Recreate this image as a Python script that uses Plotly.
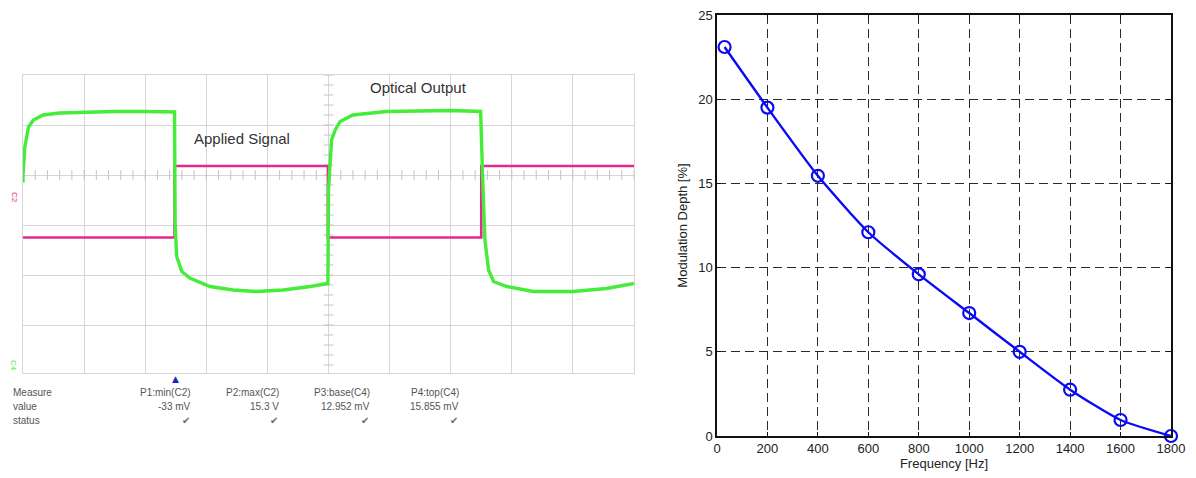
import numpy as np
import plotly.graph_objects as go

# ---------------- data ----------------
# Oscilloscope capture: time and amplitude in screen divisions (0 = marked centre line)
sig_t = [0, 2.48, 2.48, 4.99, 4.99, 7.50, 7.50, 10.0]
sig_v = [-1.25, -1.25, 0.18, 0.18, -1.25, -1.25, 0.18, 0.18]

opt_t = [0, 0.0, 0.03, 0.09, 0.17, 0.33, 0.6, 1.0, 1.5, 2.0, 2.48,
         2.49, 2.515, 2.6, 2.73, 3.06, 3.44, 3.82, 4.26, 4.7, 4.99,
         5.0, 5.05, 5.11, 5.19, 5.4, 5.95, 6.5, 7.0, 7.49,
         7.51, 7.52, 7.56, 7.62, 7.70, 7.92, 8.35, 9.0, 9.55, 10.0]
opt_v = [-0.15, 0.0, 0.56, 0.96, 1.10, 1.20, 1.24, 1.26, 1.27, 1.27, 1.26,
         -0.96, -1.63, -1.93, -2.06, -2.23, -2.30, -2.33, -2.30, -2.23, -2.17,
         -0.30, 0.70, 0.90, 1.07, 1.20, 1.27, 1.28, 1.29, 1.27,
         0.70, 0.04, -1.30, -1.90, -2.13, -2.23, -2.33, -2.33, -2.27, -2.17]

meas_names = ["P1:min(C2)", "P2:max(C2)", "P3:base(C4)", "P4:top(C4)"]
meas_values = ["-33 mV", "15.3 V", "12.952 mV", "15.855 mV"]

# Modulation depth vs. frequency
freq = [30, 200, 400, 600, 800, 1000, 1200, 1400, 1600, 1800]
depth = [23.1, 19.5, 15.45, 12.1, 9.6, 7.3, 5.0, 2.75, 0.95, 0.0]

# ---------------- figure ----------------
W, H = 1196, 478
FONT = "Liberation Sans, Arial, sans-serif"
GREEN = "#45ec3a"
MAGENTA = "#e3298c"
GRAT = "#d6d6d6"


def px(x):
    return x / W


def py(y):
    return (H - y) / H


fig = go.Figure()

# --- scope graticule centre-line ticks ---
ht = np.round(np.arange(0, 10.001, 0.2), 3)
fig.add_trace(go.Scatter(x=ht, y=np.zeros_like(ht), mode="markers", xaxis="x2", yaxis="y2",
                         marker=dict(symbol="line-ns", size=7, line=dict(width=1, color="#c4c4c4")),
                         hoverinfo="skip", showlegend=False))
vt = np.round(np.arange(-3.8, 2.001, 0.2), 3)
fig.add_trace(go.Scatter(x=np.full_like(vt, 5.0), y=vt, mode="markers", xaxis="x2", yaxis="y2",
                         marker=dict(symbol="line-ew", size=7, line=dict(width=1, color="#c4c4c4")),
                         hoverinfo="skip", showlegend=False))

# --- scope traces ---
fig.add_trace(go.Scatter(x=sig_t, y=sig_v, mode="lines", xaxis="x2", yaxis="y2",
                         line=dict(color=MAGENTA, width=2.6), showlegend=False))
fig.add_trace(go.Scatter(x=opt_t, y=opt_v, mode="lines", xaxis="x2", yaxis="y2",
                         line=dict(color=GREEN, width=3.4), showlegend=False))

# --- modulation depth curve ---
fig.add_trace(go.Scatter(x=freq, y=depth, mode="lines+markers", xaxis="x", yaxis="y",
                         line=dict(color="#0a0af5", width=2.4, shape="spline", smoothing=0.6),
                         marker=dict(symbol="circle-open", size=12, line=dict(width=2.2, color="#0a0af5")),
                         cliponaxis=False, showlegend=False))


def note(text, x, y, size, color, family=FONT, xanchor="center", angle=0):
    return dict(text=text, x=x, y=y, xref="paper", yref="paper", showarrow=False,
                xanchor=xanchor, yanchor="middle", textangle=angle,
                font=dict(family=family, size=size, color=color))


annotations = [
    dict(text="Applied Signal", x=3.58, y=0.74, xref="x2", yref="y2", showarrow=False,
         xanchor="center", yanchor="middle",
         font=dict(family=FONT, size=15, color="#333333")),
    dict(text="Optical Output", x=6.47, y=1.76, xref="x2", yref="y2", showarrow=False,
         xanchor="center", yanchor="middle",
         font=dict(family=FONT, size=15, color="#333333")),
    note("C2", px(15), py(197), 8, MAGENTA, angle=90),
    note("C4", px(14), py(366), 8, GREEN, angle=90),
    note("\u25B2", px(175), py(379), 9, "#2323b8", family="DejaVu Sans"),
]

# measurement table
row_y = [392, 406, 420]
for label, yy in zip(["Measure", "value", "status"], row_y):
    annotations.append(note(label, px(11), py(yy), 10, "#555555", xanchor="left"))
col_right = [193, 281, 372, 461]
for name, val, xr in zip(meas_names, meas_values, col_right):
    annotations.append(note(name, px(xr), py(row_y[0]), 10, "#555555", xanchor="right"))
    annotations.append(note(val, px(xr), py(row_y[1]), 10, "#555555", xanchor="right"))
    annotations.append(note("\u2714", px(xr - 1), py(row_y[2]), 10, "#6a6a6a",
                            family="DejaVu Sans", xanchor="right"))

fig.update_layout(
    width=W, height=H,
    margin=dict(l=0, r=0, t=0, b=0, autoexpand=False),
    paper_bgcolor="white", plot_bgcolor="white",
    showlegend=False,
    annotations=annotations,
    # scope screen
    xaxis2=dict(domain=[px(23), px(634)], range=[0, 10], anchor="y2", automargin=False,
                showgrid=True, gridcolor=GRAT, gridwidth=1, dtick=1, tick0=0,
                showline=True, linecolor=GRAT, linewidth=1, mirror=True,
                zeroline=False, showticklabels=False, ticks=""),
    yaxis2=dict(domain=[py(373), py(75)], range=[-3.96, 2], anchor="x2", automargin=False,
                showgrid=True, gridcolor=GRAT, gridwidth=1, dtick=1, tick0=0,
                showline=True, linecolor=GRAT, linewidth=1, mirror=True,
                zeroline=False, showticklabels=False, ticks=""),
    # modulation depth plot
    xaxis=dict(domain=[px(717), px(1171)], range=[0, 1800], anchor="y", automargin=False,
               tickmode="array", tickvals=list(range(0, 1801, 200)),
               showgrid=True, gridcolor="#2a2a2a", gridwidth=1.3, griddash="9px,5px",
               showline=True, linecolor="#111111", linewidth=1.5, mirror="allticks",
               ticks="inside", ticklen=4, tickcolor="#111111", zeroline=False,
               tickfont=dict(family=FONT, size=13, color="#222222"),
               title=dict(text="Frequency [Hz]", standoff=4,
                          font=dict(family=FONT, size=13, color="#222222"))),
    yaxis=dict(domain=[py(436), py(15)], range=[0, 25], anchor="x", automargin=False,
               tickmode="array", tickvals=[0, 5, 10, 15, 20, 25],
               showgrid=True, gridcolor="#2a2a2a", gridwidth=1.3, griddash="9px,5px",
               showline=True, linecolor="#111111", linewidth=1.5, mirror="allticks",
               ticks="inside", ticklen=4, tickcolor="#111111", zeroline=False,
               tickfont=dict(family=FONT, size=13, color="#222222"),
               title=dict(text="Modulation Depth [%]", standoff=8,
                          font=dict(family=FONT, size=13, color="#222222"))),
)

fig.write_html("out.html")
